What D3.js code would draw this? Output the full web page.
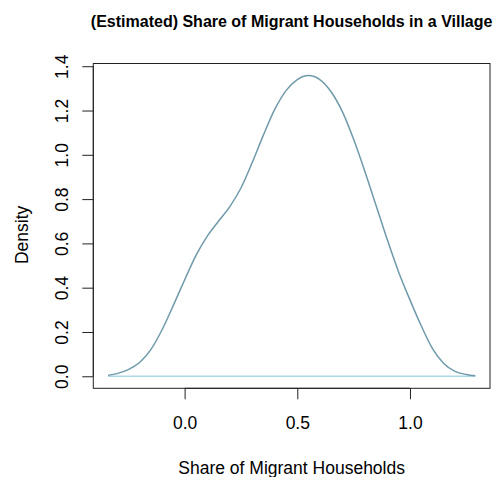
<!DOCTYPE html>
<html>
<head>
<meta charset="utf-8">
<script src="https://cdn.jsdelivr.net/npm/d3@7"></script>
<style>
  html, body { margin: 0; padding: 0; background: #fff; }
  text { font-family: "Liberation Sans", Arial, Helvetica, sans-serif; fill: #000; }
</style>
</head>
<body>
<svg id="chart" width="494" height="477"></svg>
<script>
// Kernel density estimate of the share of migrant households per village
const shareValues = [-0.34, -0.30, -0.25, -0.20, -0.15, -0.10, -0.05, 0.00, 0.05, 0.10,
                     0.15, 0.20, 0.25, 0.30, 0.35, 0.40, 0.45, 0.50, 0.55, 0.60,
                     0.65, 0.70, 0.75, 0.80, 0.85, 0.90, 0.95, 1.00, 1.05, 1.10,
                     1.15, 1.20, 1.25, 1.29];
const densityValues = [0.004, 0.012, 0.03, 0.062, 0.12, 0.21, 0.32, 0.435, 0.545, 0.632,
                       0.70, 0.765, 0.85, 0.965, 1.09, 1.205, 1.29, 1.34, 1.358, 1.34,
                       1.285, 1.195, 1.07, 0.925, 0.77, 0.615, 0.47, 0.345, 0.228, 0.125,
                       0.058, 0.022, 0.008, 0.002];
const xTicks = [0.0, 0.5, 1.0];
const yTicks = [0.0, 0.2, 0.4, 0.6, 0.8, 1.0, 1.2, 1.4];

const titleText = "(Estimated) Share of Migrant Households in a Village";
const xLabel = "Share of Migrant Households";
const yLabel = "Density";

const points = shareValues.map((x, i) => ({ x, y: densityValues[i] }));

const svg = d3.select("#chart");
const plot = { left: 93.3, right: 490, top: 63.5, bottom: 388.3 };

// Axis limits padded 4% beyond the data range
const xMin = d3.min(shareValues), xMax = d3.max(shareValues);
const xPad = (xMax - xMin) * 0.04;
const yMax = d3.max(densityValues);
const yPad = yMax * 0.04;

const x = d3.scaleLinear().domain([xMin - xPad, xMax + xPad]).range([plot.left, plot.right]);
const y = d3.scaleLinear().domain([-yPad, yMax + yPad]).range([plot.bottom, plot.top]);

const axisColor = "#222";

// Plot frame
svg.append("rect")
  .attr("x", plot.left).attr("y", plot.top)
  .attr("width", plot.right - plot.left).attr("height", plot.bottom - plot.top)
  .attr("fill", "none").attr("stroke", axisColor).attr("stroke-width", 1);

// Bottom axis
const gx = svg.append("g").attr("transform", `translate(0,${plot.bottom})`)
  .call(d3.axisBottom(x).tickValues(xTicks).tickFormat(d3.format(".1f")).tickSize(11).tickPadding(0));
gx.select(".domain").remove();
gx.append("line").attr("x1", x(xTicks[0])).attr("x2", x(xTicks[xTicks.length - 1]))
  .attr("stroke", axisColor);
gx.selectAll(".tick line").attr("stroke", axisColor);
gx.selectAll(".tick text")
  .attr("font-size", "17.5px").attr("font-family", "Liberation Sans, Arial, sans-serif")
  .attr("fill", "#000").attr("dy", null).attr("y", 41);

// Left axis with rotated labels
const gy = svg.append("g").attr("transform", `translate(${plot.left},0)`)
  .call(d3.axisLeft(y).tickValues(yTicks).tickFormat(d3.format(".1f")).tickSize(11));
gy.select(".domain").remove();
gy.append("line").attr("y1", y(yTicks[0])).attr("y2", y(yTicks[yTicks.length - 1]))
  .attr("stroke", axisColor);
gy.selectAll(".tick line").attr("stroke", axisColor);
gy.selectAll(".tick text")
  .attr("font-size", "17.5px").attr("font-family", "Liberation Sans, Arial, sans-serif")
  .attr("fill", "#000")
  .attr("x", null).attr("dy", null)
  .attr("text-anchor", "middle")
  .attr("transform", "translate(-25,0) rotate(-90)");

// Zero line under the curve
svg.append("line")
  .attr("x1", x(xMin)).attr("x2", x(xMax))
  .attr("y1", y(0)).attr("y2", y(0))
  .attr("stroke", "#add8e6").attr("stroke-width", 1.4);

// Density curve
const line = d3.line().x(d => x(d.x)).y(d => y(d.y)).curve(d3.curveMonotoneX);
svg.append("path")
  .datum(points)
  .attr("d", line)
  .attr("fill", "none")
  .attr("stroke", "#6f9aaa")
  .attr("stroke-width", 1.5);

// Titles
svg.append("text")
  .attr("x", (plot.left + plot.right) / 2).attr("y", 27)
  .attr("text-anchor", "middle")
  .attr("font-size", "16px").attr("font-weight", "bold")
  .text(titleText);

svg.append("text")
  .attr("x", (plot.left + plot.right) / 2).attr("y", 474)
  .attr("text-anchor", "middle")
  .attr("font-size", "17.5px")
  .text(xLabel);

svg.append("text")
  .attr("transform", `translate(28,${(plot.top + plot.bottom) / 2 + 9}) rotate(-90)`)
  .attr("text-anchor", "middle")
  .attr("font-size", "17.5px")
  .text(yLabel);
</script>
</body>
</html>
